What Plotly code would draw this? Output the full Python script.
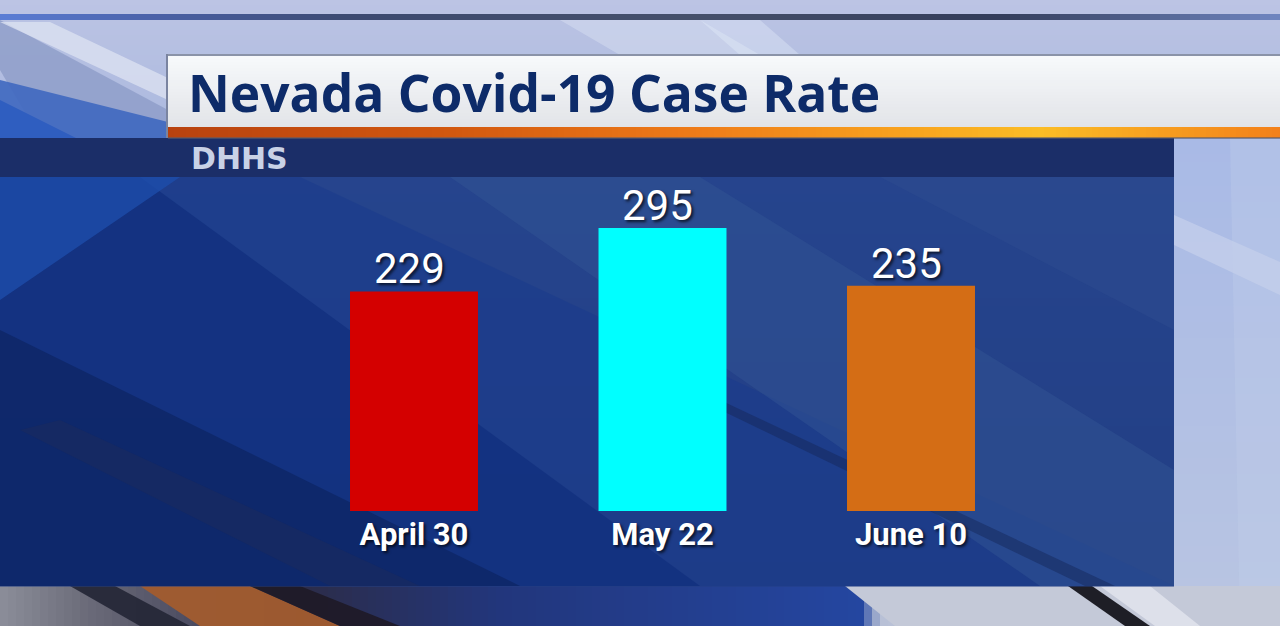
import plotly.graph_objects as go

# ---- data ----
categories = ["April 30", "May 22", "June 10"]
values = [229, 295, 235]
bar_colors = ["#d40000", "#00ffff", "#d46d15"]
title_text = "Nevada Covid-19 Case Rate"
source_text = "DHHS"

W, H = 1280, 626


def px(x):
    return x / W


def py(y):
    return 1 - y / H


shapes = []


def rect(x0, y0, x1, y1, color, opacity=1.0):
    shapes.append(dict(type="rect", xref="paper", yref="paper",
                       x0=px(x0), x1=px(x1), y0=py(y1), y1=py(y0),
                       fillcolor=color, line=dict(width=0), layer="below",
                       opacity=opacity))


def poly(pts, color, opacity=1.0):
    path = "M " + " L ".join(f"{px(x):.5f},{py(y):.5f}" for x, y in pts) + " Z"
    shapes.append(dict(type="path", xref="paper", yref="paper", path=path,
                       fillcolor=color, line=dict(width=0), layer="below",
                       opacity=opacity))


def hexrgb(c):
    c = c.lstrip("#")
    return tuple(int(c[i:i + 2], 16) for i in (0, 2, 4))


def mix(stops, t):
    for i in range(len(stops) - 1):
        t0, c0 = stops[i]
        t1, c1 = stops[i + 1]
        if t <= t1 or i == len(stops) - 2:
            f = 0 if t1 == t0 else min(max((t - t0) / (t1 - t0), 0), 1)
            a, b = hexrgb(c0), hexrgb(c1)
            return "rgb(%d,%d,%d)" % tuple(round(a[k] + (b[k] - a[k]) * f) for k in range(3))


def hgrad(x0, y0, x1, y1, stops, step=6):
    x = x0
    while x < x1:
        xe = min(x + step, x1)
        rect(x, y0, xe + 0.6, y1, mix(stops, (x + xe) / 2))
        x = xe


def vgrad(x0, y0, x1, y1, stops, step=3):
    y = y0
    while y < y1:
        ye = min(y + step, y1)
        rect(x0, y, x1, ye + 0.6, mix(stops, (y + ye) / 2))
        y = ye


# ---- background (studio look) ----
vgrad(0, 0, 1280, 140, [(0, "#bcc4e4"), (140, "#aab8de")], step=5)
# diagonal streaks top-left
poly([(0, 20), (0, 70), (40, 138), (168, 138), (168, 110)], "#8d9cc8", 0.8)
poly([(0, 22), (50, 22), (168, 78), (168, 100)], "#dde3f2", 0.75)
poly([(0, 80), (0, 140), (168, 140), (168, 122)], "#3f68c0", 0.9)
poly([(0, 100), (0, 140), (80, 140)], "#2c5cc0", 0.9)
poly([(560, 20), (700, 20), (760, 55), (620, 55)], "#dfe6f6", 0.4)
poly([(700, 20), (760, 20), (800, 55), (740, 55)], "#e8f0fb", 0.35)
# thin horizontal line near top
hgrad(0, 14, 1280, 20, [(0, "#5b7ed6"), (150, "#4a62a8"), (350, "#3c4a70"),
                         (700, "#45506a"), (1000, "#333d5a"), (1280, "#6f86c0")], step=10)

# right side region
vgrad(1174, 138, 1280, 626, [(138, "#a9bae6"), (626, "#b9c5e2")], step=8)
poly([(1174, 215), (1280, 262), (1280, 295), (1174, 245)], "#d4dcf0", 0.45)
poly([(1230, 138), (1280, 138), (1280, 626), (1240, 626)], "#c5d0ea", 0.3)

# bottom strip
hgrad(0, 586, 1280, 626, [(0, "#8c8e9a"), (90, "#6a6a78"), (300, "#2c2c48"),
                           (500, "#22367c"), (860, "#2446a0"), (880, "#b8c0d6"),
                           (1280, "#d6dbe8")], step=8)
poly([(70, 586), (115, 586), (190, 626), (140, 626)], "#262838", 0.95)
poly([(140, 586), (250, 586), (340, 626), (200, 626)], "#a25c2e", 0.95)
poly([(250, 586), (300, 586), (400, 626), (340, 626)], "#1e1a26", 0.9)
poly([(845, 586), (1280, 586), (1280, 626), (895, 626)], "#c4c9d8", 1)
poly([(1068, 586), (1092, 586), (1150, 626), (1125, 626)], "#15151c", 0.95)
poly([(1100, 586), (1150, 586), (1200, 626), (1155, 626)], "#eef0f6", 0.6)

# main panel
vgrad(0, 138, 1174, 586, [(138, "#26458e"), (586, "#223e84")], step=8)
poly([(0, 177), (300, 177), (1174, 586), (0, 586)], "#1a3a8c", 0.55)
poly([(0, 177), (140, 177), (700, 586), (0, 586)], "#12307e", 0.8)
poly([(0, 177), (180, 177), (0, 300)], "#1e4fae", 0.75)
poly([(0, 330), (0, 586), (520, 586)], "#0d2460", 0.65)
poly([(20, 430), (60, 420), (420, 586), (330, 586)], "#1b2a5c", 0.5)
poly([(450, 177), (700, 177), (1174, 470), (1174, 586), (1040, 586)], "#325393", 0.5)
poly([(700, 400), (720, 400), (1115, 586), (1085, 586)], "#16285a", 0.5)
poly([(880, 177), (1174, 177), (1174, 330)], "#2d4c90", 0.5)
# header strip
rect(0, 138, 1174, 177, "#1b2e68")

# title bar
rect(167, 54, 1280, 56, "#8a93a8")
vgrad(168, 56, 1280, 127, [(56, "#f7f9fb"), (127, "#e2e4e8")], step=3)
hgrad(168, 127, 1280, 138, [(168, "#b8420f"), (450, "#d2580f"), (700, "#ef7c19"),
                             (900, "#f8a21e"), (1040, "#fbbd26"), (1280, "#f3801a")],
      step=6)
rect(168, 137, 1280, 139, "#5a5a6a", 0.6)
rect(166, 54, 168, 138, "#7a84a0")

# ---- figure ----
fig = go.Figure()
fig.add_trace(go.Bar(
    x=categories, y=values,
    marker=dict(color=bar_colors, line=dict(width=0)),
    hoverinfo="skip", showlegend=False,
))

label_font = dict(family="Roboto", size=42, color="white",
                  shadow="2px 2px 3px rgba(0,0,0,0.7)")
value_annotations = [
    dict(x=c, y=v, xref="x", yref="y", text=str(v), showarrow=False,
         xanchor="center", yanchor="bottom", xshift=-5, yshift=-4,
         font=label_font)
    for c, v in zip(categories, values)
]

pxu = 0.959
y_top = 400
fig.update_layout(
    width=W, height=H,
    margin=dict(l=0, r=0, t=0, b=0),
    paper_bgcolor="#a6b4d8", plot_bgcolor="rgba(0,0,0,0)",
    shapes=shapes,
    bargap=0.485,
    xaxis=dict(domain=[px(289.75), px(1035.25)], range=[-0.5, 2.5],
               showgrid=False, zeroline=False, showline=False, ticks="",
               tickfont=dict(family="Roboto", size=31, color="white", weight="bold",
                             shadow="2px 2px 3px rgba(0,0,0,0.7)"),
               ticklabelstandoff=2,
               fixedrange=True),
    yaxis=dict(domain=[py(511), py(511 - pxu * y_top)], range=[0, y_top],
               visible=False, fixedrange=True),
    annotations=value_annotations + [
        dict(text=title_text, xref="paper", yref="paper", x=px(186), y=py(92),
             xanchor="left", yanchor="middle", showarrow=False,
             font=dict(family="Open Sans", size=51.5, color="#0d2b69", weight="bold")),
        dict(text=source_text, xref="paper", yref="paper", x=px(189), y=py(158),
             xanchor="left", yanchor="middle", showarrow=False,
             font=dict(family="DejaVu Sans", size=30, color="#c9d2e6", weight="bold")),
    ],
)

fig.write_html("out.html")
